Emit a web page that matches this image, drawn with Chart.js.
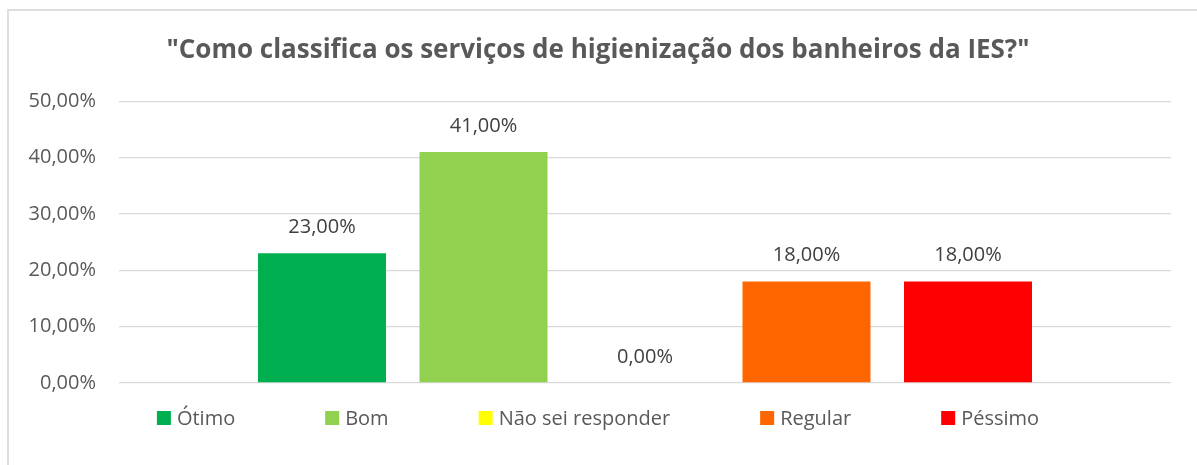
<!DOCTYPE html>
<html>
<head>
<meta charset="utf-8">
<script src="https://cdn.jsdelivr.net/npm/chart.js@4/dist/chart.umd.min.js"></script>
<style>
  html, body { margin: 0; padding: 0; background: #fff; }
  #wrap { position: relative; width: 1197px; height: 465px; overflow: hidden; }
  #frame { position: absolute; left: 7px; top: 9px; width: 1300px; height: 600px;
           border-top: 2px solid #dedede; border-left: 2px solid #dedede; }
  #chart { position: absolute; left: 0; top: 0; }
</style>
</head>
<body>
<div id="wrap">
  <div id="frame"></div>
  <canvas id="chart" width="1197" height="465"></canvas>
</div>
<script>
// survey answers
var answers = ["Ótimo", "Bom", "Não sei responder", "Regular", "Péssimo"];
var percents = [23, 41, 0, 18, 18];
var colors = ["#00B050", "#92D050", "#FFFF00", "#FF6600", "#FF0000"];

var titleText = "\"Como classifica os serviços de higienização dos banheiros da IES?\"";
var fontFamily = "'Open Sans', sans-serif";

function fmtPct(v){
	return v.toFixed(2).replace(".", ",") + "%";
}

// value labels above each bar
var barLabels = {
	id: "barLabels",
	afterDatasetsDraw: function(chart){
		var ctx = chart.ctx;
		ctx.save();
		ctx.font = "20px " + fontFamily;
		ctx.fillStyle = "#404040";
		ctx.textAlign = "center";
		ctx.textBaseline = "middle";
		chart.data.datasets.forEach(function(ds, i){
			var bar = chart.getDatasetMeta(i).data[0];
			ctx.fillText(fmtPct(ds.data[0]), bar.x, bar.y - 26);
		});
		ctx.restore();
	}
};

// legend row under the plot, centred on the chart
var legendRow = {
	id: "legendRow",
	afterDraw: function(chart){
		var ctx = chart.ctx;
		var box = 14, gapText = 6, gapItem = 90, y = 418;
		ctx.save();
		ctx.font = "20px " + fontFamily;
		var widths = chart.data.datasets.map(function(ds){
			return box + gapText + ctx.measureText(ds.label).width;
		});
		var total = widths.reduce(function(a, b){ return a + b; }, 0) + gapItem * (widths.length - 1);
		var mid = (chart.options.layout.padding.left + chart.chartArea.right) / 2;
		var x = mid - total / 2;
		ctx.textBaseline = "middle";
		ctx.textAlign = "left";
		chart.data.datasets.forEach(function(ds, i){
			ctx.fillStyle = ds.backgroundColor;
			ctx.fillRect(x, y - box / 2, box, box);
			ctx.fillStyle = "#595959";
			ctx.fillText(ds.label, x + box + gapText, y + 1);
			x += widths[i] + gapItem;
		});
		ctx.restore();
	}
};

var datasets = answers.map(function(a, i){
	return {
		label: a,
		data: [percents[i]],
		backgroundColor: colors[i],
		categoryPercentage: 0.7676,
		barPercentage: 0.7926
	};
});

var ctx = document.getElementById("chart");
var chart = new Chart(ctx, {
	type: "bar",
	data: { labels: [""], datasets: datasets },
	options: {
		responsive: false,
		animation: false,
		layout: { padding: { top: 9, left: 25, right: 26, bottom: 82 } },
		plugins: {
			legend: { display: false },
			tooltip: { enabled: false },
			title: {
				display: true,
				text: titleText,
				color: "#595959",
				font: { family: fontFamily, size: 26, weight: "bold", lineHeight: 1.2 },
				padding: { top: 26, bottom: 35 }
			}
		},
		scales: {
			x: { display: false },
			y: {
				min: 0,
				max: 50,
				border: { display: false },
				grid: { color: "#d9d9d9", lineWidth: 1.3, drawTicks: false },
				ticks: {
					stepSize: 10,
					padding: 23,
					color: "#595959",
					font: { family: fontFamily, size: 20 },
					callback: function(v){ return fmtPct(v); }
				},
				afterFit: function(scale){ scale.width = 94; }
			}
		}
	},
	plugins: [barLabels, legendRow]
});
</script>
</body>
</html>
